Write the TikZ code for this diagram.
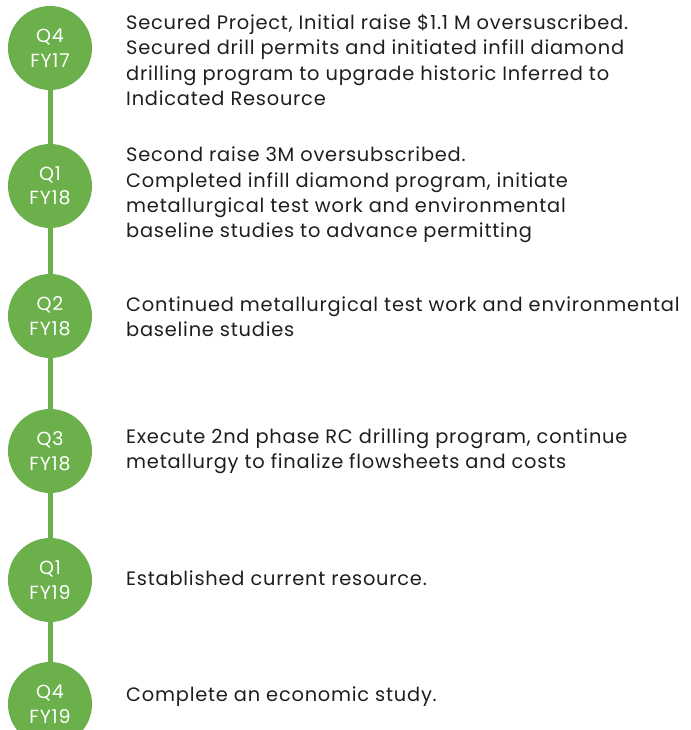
\documentclass[tikz,border=0pt]{standalone}
\usepackage{fontspec}
\setmainfont{Poppins}[LetterSpace=4]
\definecolor{tlgreen}{HTML}{6BB04B}
\definecolor{tltext}{HTML}{1E1E1E}
\begin{document}
\begin{tikzpicture}[x=1pt,y=-1pt,
  milestone/.style={circle,fill=tlgreen,minimum size=84pt,inner sep=0pt,text=white,
    font=\fontsize{19}{24.5}\selectfont,align=center},
  desc/.style={anchor=west,inner sep=0pt,text=tltext,align=left,
    font=\fontsize{19.4}{25.3}\selectfont},
  link/.style={draw=tlgreen,line width=5pt}]
\useasboundingbox (0,0) rectangle (690,730);
\node[milestone] (m1) at (50,48) {Q4\\FY17};
\node[milestone] (m2) at (50,186) {Q1\\FY18};
\node[milestone] (m3) at (50,316) {Q2\\FY18};
\node[milestone] (m4) at (50,451) {Q3\\FY18};
\node[milestone] (m5) at (50,580) {Q1\\FY19};
\node[milestone] (m6) at (50,704) {Q4\\FY19};
\draw[link] (m1.south) -- (m2.north);
\draw[link] (m2.south) -- (m3.north);
\draw[link] (m3.south) -- (m4.north);
\draw[link] (m4.south) -- (m5.north);
\draw[link] (m5.south) -- (m6.north);
\node[desc] (t1) at (126,60) {Secured Project, Initial raise \$1.1 M oversuscribed.\\Secured drill permits and initiated infill diamond\\drilling program to upgrade historic Inferred to\\Indicated Resource};
\node[desc] (t2) at (126,195) {Second raise 3M oversubscribed.\\Completed infill diamond program, initiate\\metallurgical test work and environmental\\baseline studies to advance permitting};
\node[desc] (t3) at (126,317) {Continued metallurgical test work and environmental\\baseline studies};
\node[desc] (t4) at (126,451) {Execute 2nd phase RC drilling program, continue\\metallurgy to finalize flowsheets and costs};
\node[desc] (t5) at (126,578) {Established current resource.};
\node[desc] (t6) at (126,697) {Complete an economic study.};
\end{tikzpicture}
\end{document}
